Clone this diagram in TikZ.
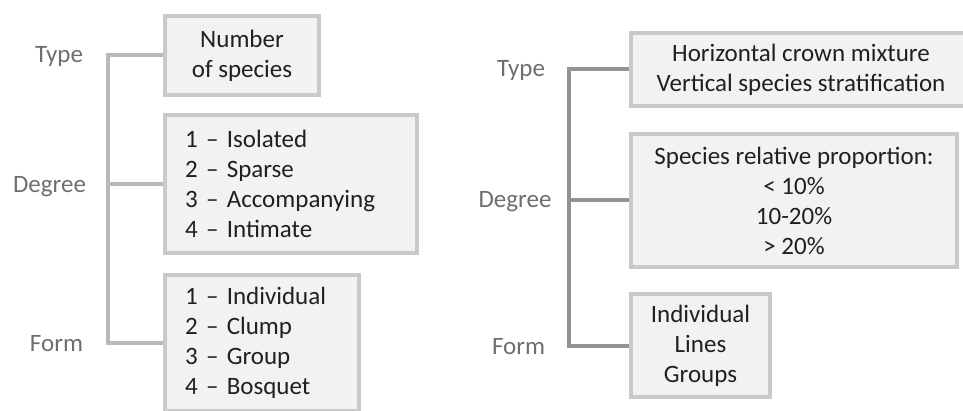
\documentclass[tikz,border=0pt]{standalone}
\usepackage{fontspec}
\setmainfont{Carlito}
\usepackage{tikz}
\usetikzlibrary{calc}

\definecolor{boxfill}{HTML}{F1F2F3}
\definecolor{boxline}{HTML}{C9C9C9}
\definecolor{boxtext}{HTML}{231F20}
\definecolor{labeltext}{HTML}{6D6E71}
\definecolor{leftline}{HTML}{B9B9B9}
\definecolor{rightline}{HTML}{939393}
\newcommand{\diagfont}{\fontsize{25}{30}\selectfont}

\begin{document}
\begin{tikzpicture}[x=1pt,y=-1pt,
	box/.style={draw=boxline,fill=boxfill,line width=4pt,inner sep=0pt,font=\diagfont,text=boxtext,align=center},
	listbox/.style={box,inner xsep=20pt,align=left},
	lab/.style={anchor=base,font=\diagfont,text=labeltext},
	lbrace/.style={draw=leftline,line width=4pt},
	rbrace/.style={draw=rightline,line width=4pt}]
	\useasboundingbox (0,0) rectangle (963,411);

	% left tree
	\draw (242,55.5) node (num) [box,minimum width=154pt,minimum height=79pt] {Number\\of species};
	\draw (291,184) node (deg) [listbox,text width=212pt,minimum height=138pt] {1 – Isolated\\2 – Sparse\\3 – Accompanying\\4 – Intimate};
	\draw (262,343) node (frm) [listbox,text width=154pt,minimum height=136pt] {1 – Individual\\2 – Clump\\3 – Group\\4 – Bosquet};

	\draw (59,63) node (ltype) [lab] {Type};
	\draw (49.5,193) node (ldeg) [lab] {Degree};
	\draw (56.5,352) node (lform) [lab] {Form};

	\coordinate (lbar) at (108,0);
	\draw[lbrace] (num.west) -- (num.west -| lbar) -- (frm.west -| lbar) -- (frm.west);
	\draw[lbrace] (deg.west) -- (deg.west -| lbar);

	% right tree
	\draw (801,69.5) node (mix) [box,minimum width=340pt,minimum height=73pt] {Horizontal crown mixture\\Vertical species stratification};
	\draw (794,200.5) node (prop) [box,minimum width=326pt,minimum height=133pt] {Species relative proportion:\\< 10\%\\10-20\%\\> 20\%};
	\draw (700.5,345.5) node (arr) [box,minimum width=139pt,minimum height=103pt] {Individual\\Lines\\Groups};

	\draw (521,77) node (rtype) [lab] {Type};
	\draw (515,208) node (rdeg) [lab] {Degree};
	\draw (518.5,354) node (rform) [lab] {Form};

	\coordinate (rbar) at (569,0);
	\draw[rbrace] (mix.west) -- (mix.west -| rbar) -- (arr.west -| rbar) -- (arr.west);
	\draw[rbrace] (prop.west) -- (prop.west -| rbar);
\end{tikzpicture}
\end{document}
